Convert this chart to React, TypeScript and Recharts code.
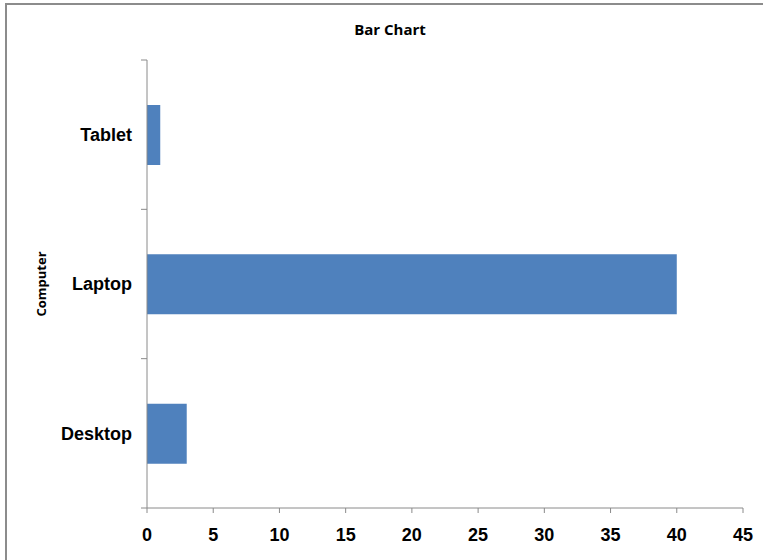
import React from 'react';
import { BarChart, Bar, XAxis, YAxis } from 'recharts';

const categories = ['Tablet', 'Laptop', 'Desktop'];
const counts = [1, 40, 3];
const xTicks = [0, 5, 10, 15, 20, 25, 30, 35, 40, 45];

const data = categories.map((name, i) => ({ name, count: counts[i] }));

const AXIS_COLOR = '#8a8a8a';
const PLOT_TOP = 60;
const PLOT_HEIGHT = 448;
const BAND = PLOT_HEIGHT / categories.length;

// category label plus tick marks at the band edges (Excel style)
const CategoryTick = (props: any) => {
  const { x, y, payload, index } = props;
  const axisX = x + 15;
  return (
    <g>
      <line x1={axisX - 6} x2={axisX} y1={y - BAND / 2} y2={y - BAND / 2} stroke={AXIS_COLOR} />
      {index === categories.length - 1 && (
        <line x1={axisX - 6} x2={axisX} y1={y + BAND / 2} y2={y + BAND / 2} stroke={AXIS_COLOR} />
      )}
      <text
        x={x}
        y={y}
        dy="0.35em"
        textAnchor="end"
        fontFamily="'Liberation Sans', Arial, sans-serif"
        fontWeight="bold"
        fontSize={18}
        fill="#000"
      >
        {payload.value}
      </text>
    </g>
  );
};

const AxisTitle = (props: any) => {
  const cx = 41;
  const cy = PLOT_TOP + PLOT_HEIGHT / 2;
  return (
    <text
      x={cx}
      y={cy}
      transform={`rotate(-90, ${cx}, ${cy})`}
      textAnchor="middle"
      dominantBaseline="central"
      fontFamily="'Open Sans', sans-serif"
      fontWeight="bold"
      fontSize={13}
      fill="#000"
    >
      Computer
    </text>
  );
};

export default function App() {
  return (
    <div
      style={{
        position: 'absolute',
        left: 0,
        top: 0,
        width: 763,
        height: 560,
        overflow: 'hidden',
        background: '#fff',
      }}
    >
      <div
        style={{
          position: 'absolute',
          left: 5,
          top: 3,
          width: 780,
          height: 580,
          border: '2px solid #8c8c8c',
          boxSizing: 'border-box',
        }}
      />
      <div
        style={{
          position: 'absolute',
          left: 0,
          top: 19,
          width: 780,
          textAlign: 'center',
          fontFamily: "'Open Sans', sans-serif",
          fontWeight: 'bold',
          fontSize: 15,
          color: '#000',
        }}
      >
        Bar Chart
      </div>
      <div style={{ position: 'absolute', left: 0, top: 0 }}>
        <BarChart
          width={763}
          height={560}
          data={data}
          layout="vertical"
          margin={{ top: PLOT_TOP, right: 20, bottom: 0, left: 0 }}
        >
          <XAxis
            type="number"
            domain={[0, 45]}
            ticks={xTicks}
            interval={0}
            height={52}
            stroke={AXIS_COLOR}
            tickSize={5}
            tickMargin={15}
            tick={{
              fill: '#000',
              fontSize: 18,
              fontWeight: 'bold',
              fontFamily: "'Liberation Sans', Arial, sans-serif",
            }}
          />
          <YAxis
            type="category"
            dataKey="name"
            width={147}
            stroke={AXIS_COLOR}
            tickLine={false}
            tickSize={0}
            tickMargin={15}
            tick={<CategoryTick />}
            label={{ content: <AxisTitle /> }}
          />
          <Bar dataKey="count" fill="#4F81BD" barSize={60} isAnimationActive={false} />
        </BarChart>
      </div>
    </div>
  );
}
